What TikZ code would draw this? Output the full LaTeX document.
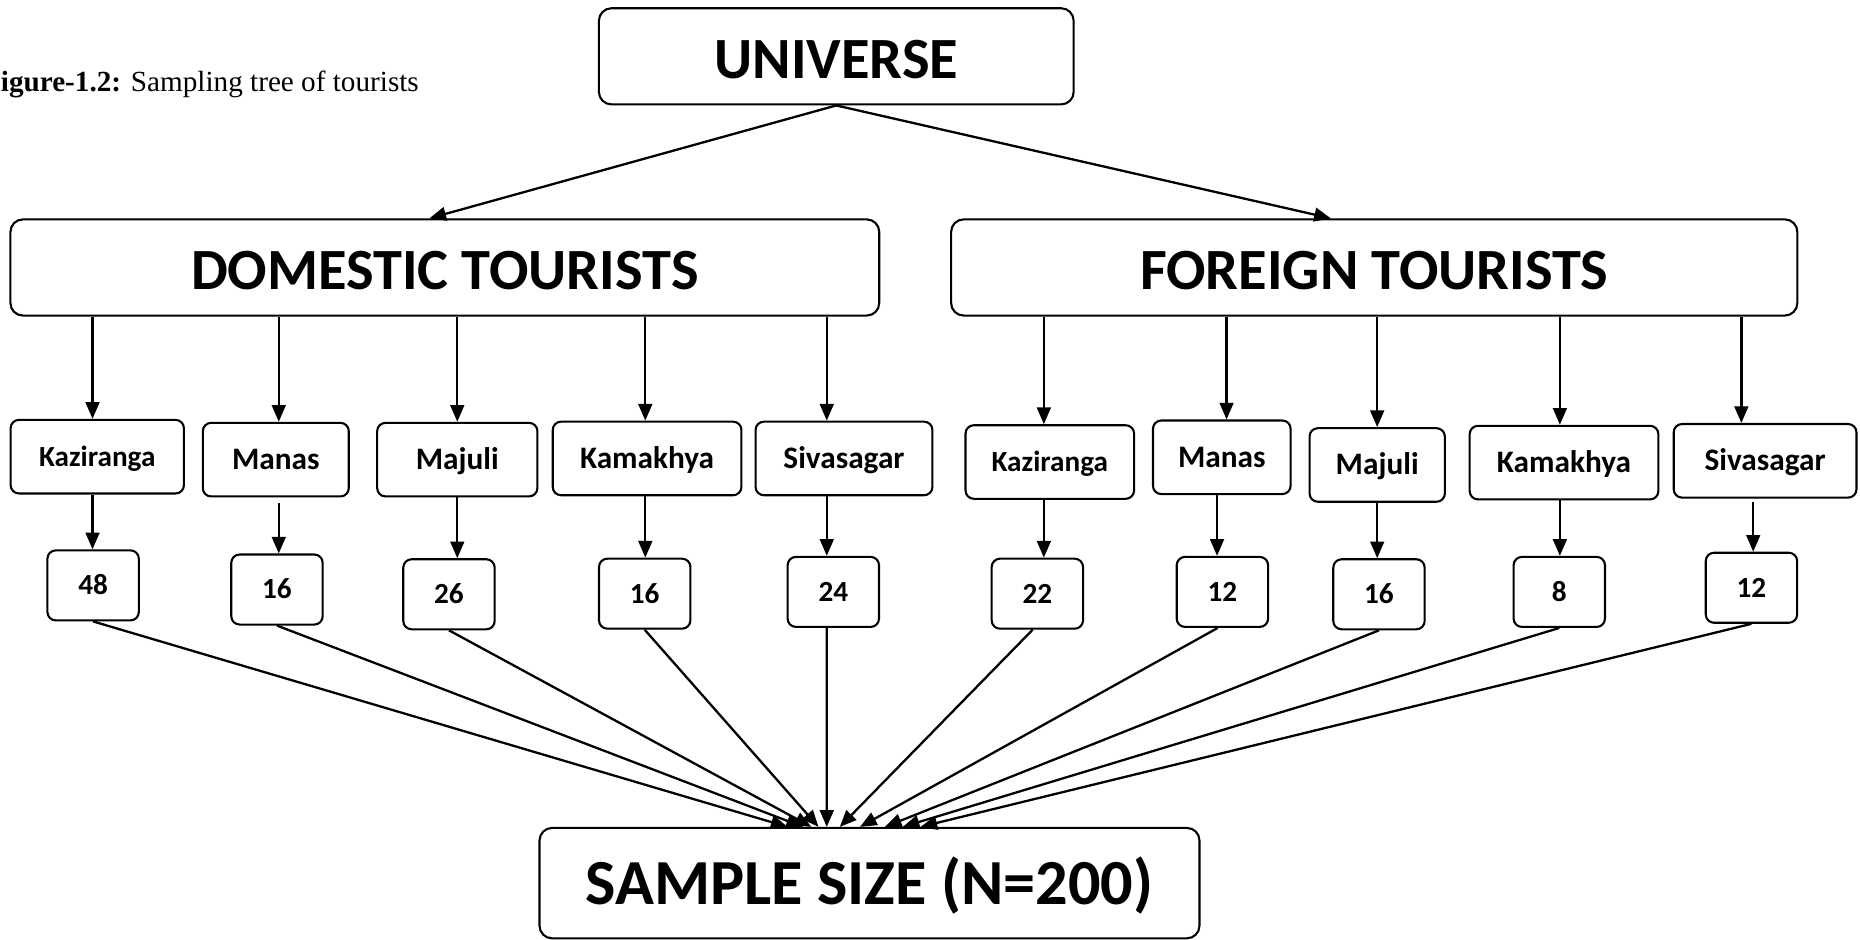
\documentclass[tikz,border=0pt]{standalone}
\usepackage{fontspec}
\setmainfont{Liberation Serif}
\newfontfamily\calibri{Carlito}
\usetikzlibrary{arrows.meta}
\tikzset{headbox/.style={draw,line width=0.5pt,rounded corners=3pt,inner sep=0pt,minimum height=0.81cm,
                         font=\calibri\bfseries\fontsize{14}{16}\selectfont,text height=10.6pt,text depth=0pt},
         sitebox/.style={draw,line width=0.5pt,rounded corners=2pt,inner sep=0pt,minimum height=0.62cm,
                         font=\calibri\bfseries\fontsize{7.5}{9}\selectfont,text height=4.8pt,text depth=0pt},
         countbox/.style={draw,line width=0.5pt,rounded corners=2pt,inner sep=0pt,minimum width=0.77cm,minimum height=0.59cm,
                         font=\calibri\bfseries\fontsize{7}{8}\selectfont,text height=4.5pt,text depth=0pt},
         tip/.style={-{Triangle[length=4pt,width=3.3pt]},line width=0.55pt}}

\begin{document}
\begin{tikzpicture}[x=0.01cm,y=-0.01cm]
        \path[use as bounding box,fill=white](0,0)rectangle(1568,792);
        \node[anchor=base west,inner sep=0pt,font=\fontsize{7}{8}\selectfont](caption)at(-15,77){\textbf{Figure-1.2:} Sampling tree of tourists};

        \node[headbox,minimum width=4cm](uni)at(705,47.5){UNIVERSE};
        \node[headbox,minimum width=7.32cm](dom)at(375,225.5){DOMESTIC TOURISTS};
        \node[headbox,minimum width=7.13cm](for)at(1158.5,225.5){FOREIGN TOURISTS};
        \node[headbox,minimum width=5.56cm,minimum height=0.93cm,font=\calibri\bfseries\fontsize{15.4}{18}\selectfont,text height=10.4pt](total)at(733,744.5){SAMPLE SIZE (N=200)};

        \node[sitebox,minimum width=1.46cm,font=\calibri\bfseries\fontsize{7}{8}\selectfont,text height=4.5pt](s1)at(82,385){Kaziranga};
        \node[sitebox,minimum width=1.23cm](s2)at(232.5,387.5){Manas};
        \node[sitebox,minimum width=1.35cm](s3)at(385.5,387.5){Majuli};
        \node[sitebox,minimum width=1.59cm](s4)at(545.5,386.5){Kamakhya};
        \node[sitebox,minimum width=1.49cm](s5)at(711.5,386.5){Sivasagar};
        \node[sitebox,minimum width=1.42cm,font=\calibri\bfseries\fontsize{7}{8}\selectfont,text height=4.5pt](s6)at(885,389.5){Kaziranga};
        \node[sitebox,minimum width=1.16cm](s7)at(1030,385.5){Manas};
        \node[sitebox,minimum width=1.14cm](s8)at(1161,392){Majuli};
        \node[sitebox,minimum width=1.59cm](s9)at(1318.5,390){Kamakhya};
        \node[sitebox,minimum width=1.54cm](s10)at(1488,388.5){Sivasagar};

        \node[countbox](n1)at(78.5,493.5){48};
        \node[countbox](n2)at(233.5,497){16};
        \node[countbox](n3)at(378.5,501){26};
        \node[countbox](n4)at(543.5,500.5){16};
        \node[countbox](n5)at(702.5,499){24};
        \node[countbox](n6)at(874.5,500.5){22};
        \node[countbox](n7)at(1030.5,499){12};
        \node[countbox](n8)at(1162.5,501){16};
        \node[countbox](n9)at(1314.5,499){8};
        \node[countbox](n10)at(1476.5,495.5){12};

        \draw[tip](uni.south)--([xshift=-0.13cm]dom.north);
        \draw[tip](uni.south)--([xshift=-0.365cm]for.north);

        \draw[tip]([xshift=-0.04cm]s1.north |- dom.south)--([xshift=-0.04cm]s1.north);
        \draw[tip]([xshift=0.025cm]s2.north |- dom.south)--([xshift=0.025cm]s2.north);
        \draw[tip](s3.north |- dom.south)--(s3.north);
        \draw[tip]([xshift=-0.015cm]s4.north |- dom.south)--([xshift=-0.015cm]s4.north);
        \draw[tip]([xshift=-0.145cm]s5.north |- dom.south)--([xshift=-0.145cm]s5.north);
        \draw[tip]([xshift=-0.05cm]s6.north |- for.south)--([xshift=-0.05cm]s6.north);
        \draw[tip]([xshift=0.04cm]s7.north |- for.south)--([xshift=0.04cm]s7.north);
        \draw[tip](s8.north |- for.south)--(s8.north);
        \draw[tip]([xshift=-0.035cm]s9.north |- for.south)--([xshift=-0.035cm]s9.north);
        \draw[tip]([xshift=-0.2cm]s10.north |- for.south)--([xshift=-0.2cm]s10.north);

        \draw[tip]([xshift=-0.04cm]s1.south)--([xshift=-0.04cm]s1.south |- n1.north);
        \draw[tip]([xshift=0.025cm,yshift=-0.05cm]s2.south)--([xshift=0.025cm]s2.south |- n2.north);
        \draw[tip](s3.south)--(s3.south |- n3.north);
        \draw[tip]([xshift=-0.015cm]s4.south)--([xshift=-0.015cm]s4.south |- n4.north);
        \draw[tip]([xshift=-0.145cm]s5.south)--([xshift=-0.145cm]s5.south |- n5.north);
        \draw[tip]([xshift=-0.05cm]s6.south)--([xshift=-0.05cm]s6.south |- n6.north);
        \draw[tip]([xshift=-0.04cm]s7.south)--([xshift=-0.04cm]s7.south |- n7.north);
        \draw[tip](s8.south)--(s8.south |- n8.north);
        \draw[tip]([xshift=-0.035cm]s9.south)--([xshift=-0.035cm]s9.south |- n9.north);
        \draw[tip]([xshift=-0.1cm,yshift=-0.03cm]s10.south)--([xshift=-0.1cm]s10.south |- n10.north);

        \draw[tip](n1.south)--([xshift=-0.69cm]total.north);
        \draw[tip](n2.south)--([xshift=-0.56cm]total.north);
        \draw[tip](n3.south)--([xshift=-0.49cm]total.north);
        \draw[tip](n4.south)--([xshift=-0.43cm]total.north);
        \draw[tip]([xshift=-0.055cm]n5.south)--([xshift=-0.36cm]total.north);
        \draw[tip]([xshift=-0.04cm]n6.south)--([xshift=-0.25cm]total.north);
        \draw[tip]([xshift=-0.04cm]n7.south)--([xshift=-0.08cm]total.north);
        \draw[tip](n8.south)--([xshift=0.13cm]total.north);
        \draw[tip](n9.south)--([xshift=0.28cm]total.north);
        \draw[tip](n10.south)--([xshift=0.43cm]total.north);
    \end{tikzpicture}
\end{document}
